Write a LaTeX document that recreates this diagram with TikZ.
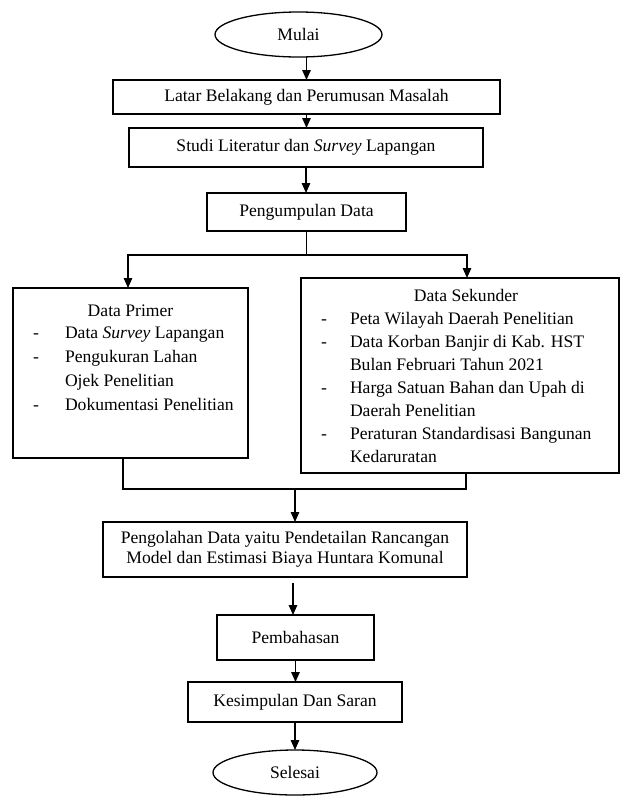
\documentclass[tikz,border=0pt]{standalone}
\usepackage{fontspec}
\setmainfont{Liberation Serif}
\usetikzlibrary{arrows.meta,shapes.geometric}
\begin{document}
\begin{tikzpicture}[x=1pt,y=-1pt,
  font=\fontsize{17.6}{21}\selectfont,
  every node/.style={inner sep=0pt, outer sep=0pt},
  box/.style={draw, line width=1.4pt, rectangle, align=center},
  oval/.style={draw, line width=1.3pt, ellipse},
  conn/.style={line width=1.4pt},
  arr/.style={conn, -{Triangle[length=10pt,width=8.5pt]}},
  item/.style={anchor=base west}]
\useasboundingbox (0,0) rectangle (621,796);
\node[oval, minimum width=167, minimum height=45] (mulai) at (298.5,34.5) {Mulai};
\node[box, minimum width=387, minimum height=34] (latar) at (306.5,97) {Latar Belakang dan Perumusan Masalah};
\node[box, minimum width=354, minimum height=39] (studi) at (306,147.5) {Studi Literatur dan \textit{Survey} Lapangan};
\node[box, minimum width=199, minimum height=38] (kumpul) at (306.5,212) {Pengumpulan Data};
\node[box, minimum width=235, minimum height=170] (primer) at (130.5,373) {};
\node[box, minimum width=318, minimum height=195] (sekunder) at (460,375.5) {};
\node[box, minimum width=364, minimum height=55] (olah) at (285,549.5) {Pengolahan Data yaitu Pendetailan Rancangan\\[-1pt]Model dan Estimasi Biaya Huntara Komunal};
\node[box, minimum width=157, minimum height=45] (bahas) at (295.5,637.5) {Pembahasan};
\node[box, minimum width=214, minimum height=40] (simpul) at (295,702) {Kesimpulan Dan Saran};
\node[oval, minimum width=164, minimum height=45] (selesai) at (295,772.5) {Selesai};
% Data Primer text
\node[anchor=base] (pt) at (130.5,316) {Data Primer};
\node[item] (pd1) at (33,338) {-};
\node[item] (p1) at (65,338) {Data \textit{Survey} Lapangan};
\node[item] (pd2) at (33,362) {-};
\node[item] (p2) at (65,362) {Pengukuran Lahan};
\node[item] (p3) at (65,386) {Ojek Penelitian};
\node[item] (pd4) at (33,410) {-};
\node[item] (p4) at (65,410) {Dokumentasi Penelitian};
% Data Sekunder text
\node[anchor=base] (st) at (466,301) {Data Sekunder};
\node[item] (sd1) at (321,324) {-};
\node[item] (s1) at (350,324) {Peta Wilayah Daerah Penelitian};
\node[item] (sd2) at (321,347) {-};
\node[item] (s2) at (350,347) {Data Korban Banjir di Kab. HST};
\node[item] (s3) at (350,370) {Bulan Februari Tahun 2021};
\node[item] (sd4) at (321,393) {-};
\node[item] (s4) at (350,393) {Harga Satuan Bahan dan Upah di};
\node[item] (s5) at (350,416) {Daerah Penelitian};
\node[item] (sd6) at (321,439) {-};
\node[item] (s6) at (350,439) {Peraturan Standardisasi Bangunan};
\node[item] (s7) at (350,462) {Kedaruratan};
% connectors
\coordinate (split) at (307,255);
\coordinate (mergeL) at (123,489);
\coordinate (mergeR) at (466,489);
\coordinate (merge) at (295,489);
\draw[arr] (mulai.south -| latar.north) -- (latar.north);
\draw[arr] (latar.south) -- (latar.south |- studi.north);
\draw[arr] (studi.south) -- (studi.south |- kumpul.north);
\draw[conn] (kumpul.south) -- (kumpul.south |- split);
\draw[arr] (kumpul.south |- split) -| (128,0 |- primer.north);
\draw[arr] (kumpul.south |- split) -| (467,0 |- sekunder.north);
\draw[conn] (mergeL |- primer.south) -- (mergeL) -- (mergeR) -- (mergeR |- sekunder.south);
\draw[arr] (merge) -- (merge |- olah.north);
\draw[arr, shorten <=6pt] (olah.south -| 293,0) -- (293,0 |- bahas.north);
\draw[arr] (bahas.south) -- (bahas.south |- simpul.north);
\draw[arr] (simpul.south) -- (simpul.south |- selesai.north);
\end{tikzpicture}
\end{document}
